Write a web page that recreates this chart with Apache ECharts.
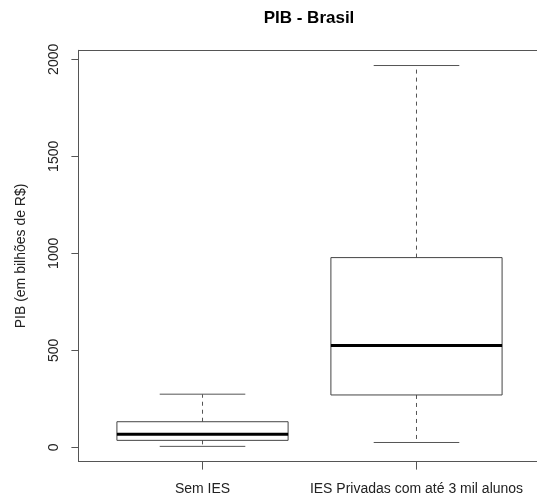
<!DOCTYPE html>
<html>
<head>
<meta charset="utf-8">
<script src="https://cdn.jsdelivr.net/npm/echarts@6/dist/echarts.min.js"></script>
<style>
html,body{margin:0;padding:0;background:#fff;}
#c{width:537px;height:499px;}
</style>
</head>
<body>
<div id="c"></div>
<script>
const categories = ['Sem IES', 'IES Privadas com até 3 mil alunos'];
const lowerWhisker = [5, 25];
const q1 = [36, 270];
const median = [68, 525];
const q3 = [132, 978];
const upperWhisker = [274, 1968];
const yTicks = [0, 500, 1000, 1500, 2000];
const xTicks = [1, 2];

const FONT = '"Liberation Sans", Arial, Helvetica, sans-serif';
const data = categories.map((c, i) => [i + 1, lowerWhisker[i], q1[i], median[i], q3[i], upperWhisker[i]]);

const chart = echarts.init(document.getElementById('c'), null, {renderer: 'canvas'});

function renderItem(params, api) {
  const x = api.value(0);
  const lw = api.coord([x, api.value(1)]);
  const b1 = api.coord([x, api.value(2)]);
  const md = api.coord([x, api.value(3)]);
  const b3 = api.coord([x, api.value(4)]);
  const uw = api.coord([x, api.value(5)]);
  const half = api.size([0.4, 0])[0];
  const cap = half / 2;
  const cx = lw[0];
  const grey = '#555';
  return {
    type: 'group',
    children: [
      {type: 'line', shape: {x1: cx, y1: b3[1], x2: cx, y2: uw[1]}, style: {stroke: grey, lineWidth: 1, lineDash: [4, 4]}},
      {type: 'line', shape: {x1: cx, y1: b1[1], x2: cx, y2: lw[1]}, style: {stroke: grey, lineWidth: 1, lineDash: [4, 4]}},
      {type: 'line', shape: {x1: cx - cap, y1: uw[1], x2: cx + cap, y2: uw[1]}, style: {stroke: grey, lineWidth: 1}},
      {type: 'line', shape: {x1: cx - cap, y1: lw[1], x2: cx + cap, y2: lw[1]}, style: {stroke: grey, lineWidth: 1}},
      {type: 'rect', shape: {x: cx - half, y: b3[1], width: 2 * half, height: b1[1] - b3[1]}, style: {fill: 'none', stroke: '#444', lineWidth: 1}},
      {type: 'line', shape: {x1: cx - half, y1: md[1], x2: cx + half, y2: md[1]}, style: {stroke: '#000', lineWidth: 3}}
    ]
  };
}

const frameLine = {show: true, onZero: false, lineStyle: {color: '#555', width: 1}};

chart.setOption({
  animation: false,
  backgroundColor: '#fff',
  title: {
    text: 'PIB - Brasil',
    left: 304,
    top: 5,
    textAlign: 'center',
    textStyle: {fontFamily: FONT, fontSize: 17, fontWeight: 'bold', color: '#000'}
  },
  grid: {
    left: 78.4, top: 50.3, width: 462.2, height: 411.3,
    outerBoundsMode: 'none',
    containLabel: false,
    show: false
  },
  xAxis: [{
    type: 'value',
    min: 0.42, max: 2.58,
    splitLine: {show: false},
    axisLine: frameLine,
    axisTick: {show: true, customValues: xTicks, length: 8, lineStyle: {color: '#555'}},
    axisLabel: {
      customValues: xTicks,
      formatter: v => categories[Math.round(v) - 1],
      fontFamily: FONT, fontSize: 14, color: '#222', margin: 21
    }
  }, {
    type: 'value',
    position: 'top',
    min: 0.42, max: 2.58,
    splitLine: {show: false},
    axisLine: frameLine,
    axisTick: {show: false},
    axisLabel: {show: false}
  }],
  yAxis: {
    type: 'value',
    min: -73.5, max: 2046.5,
    name: 'PIB (em bilhões de R$)',
    nameLocation: 'middle',
    nameRotate: 90,
    nameGap: 50,
    nameTextStyle: {fontFamily: FONT, fontSize: 14, color: '#222'},
    splitLine: {show: false},
    axisLine: frameLine,
    axisTick: {show: true, customValues: yTicks, length: 7, lineStyle: {color: '#555'}},
    axisLabel: {
      customValues: yTicks,
      rotate: 90,
      formatter: v => String(v),
      fontFamily: FONT, fontSize: 14, color: '#222', margin: 17
    }
  },
  series: [{
    type: 'custom',
    renderItem: renderItem,
    xAxisIndex: 0,
    encode: {x: 0, y: [1, 2, 3, 4, 5]},
    data: data
  }]
});
</script>
</body>
</html>
